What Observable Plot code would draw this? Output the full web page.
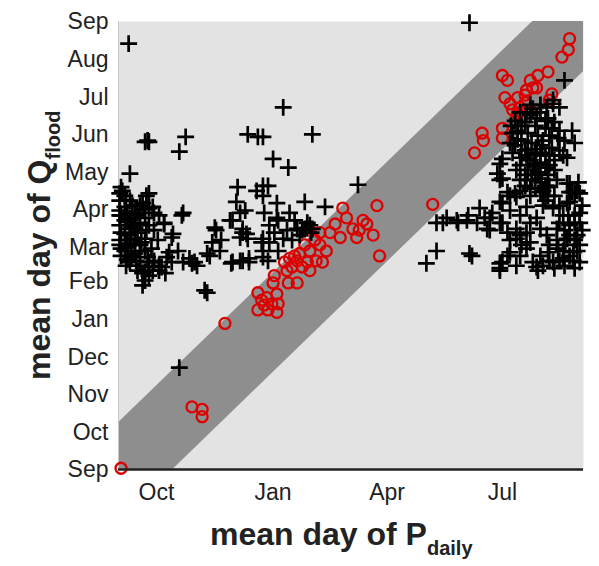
<!DOCTYPE html>
<html><head><meta charset="utf-8">
<script src="https://cdn.jsdelivr.net/npm/d3@7"></script>
<script src="https://cdn.jsdelivr.net/npm/@observablehq/plot@0.6"></script>
<style>body{margin:0;background:#fff}</style>
</head><body><div id="chart"></div>
<script>
// Day of water year (0 = 1 Sep)
const monthNames = ["Sep","Oct","Nov","Dec","Jan","Feb","Mar","Apr","May","Jun","Jul","Aug","Sep"];
const monthStarts = [0,30,61,91,122,153,181,212,242,273,303,334,365];
const xTickDays = [30,122,212,303];
const xMax = 367, yMax = 365;
const bandAbove = 38, bandBelow = 43;

// black crosses: [mean day of P_daily, mean day of Q_flood]
const otherStations = [
[8,347],[21,267],[24,267],[23,268],[53,271],[48,259],[102,273],[110,271],[114,271],[130,295],[153,273],[122,253],[134,246],[9,241],[277,364],[189,232],[147,218],[163,214],[48,83],[70,144],[19,150],
[2,230],[5,223],[22,223],[1,219],[9,219],[17,215],[24,213],[28,209],[32,207],[51,209],[1,211],[7,209],[13,207],[21,205],[5,203],[11,199],[17,201],[24,199],[1,199],[42,189],[36,200],[2,193],[9,191],[15,193],[21,188],[28,195],[1,187],[7,184],[13,183],[5,178],[10,174],[17,178],[23,173],[28,169],[32,166],[38,173],[42,169],[47,178],[51,169],[56,172],[62,166],[17,166],[21,161],[24,158],[32,162],[37,160],[9,169],[1,183],[2,174],[40,177],[60,169],[21,154],[24,165],[34,165],[28,170],[10,173],[24,225],[19,217],[27,214],[36,201],[50,207],[19,160],[68,146],[1,225],[3,227],
[5,214],[9,196],[13,188],[6,181],[18,185],[14,170],[26,180],[31,187],[22,195],[6,166],[27,162],[15,209],[2,207],
[6,219],[11,215],[1,207],[7,202],[13,197],[5,192],[10,187],[17,183],[2,180],[7,171],[13,176],[21,178],[24,169],[15,162],[9,205],[20,212],
[76,197],[81,187],[72,174],[80,178],[90,169],[98,170],[103,172],[94,230],[93,218],[100,211],[90,203],[98,193],[102,188],[109,227],[114,231],[118,231],[115,209],[113,185],[114,173],[114,223],[98,196],[96,189],[125,217],[126,203],[135,209],[139,203],[133,195],[141,196],[151,199],[152,193],[114,188],[119,185],[114,178],[126,178],[118,170],[103,169],[96,170],[89,168],[143,191],[147,196],[130,188],[123,193],[119,199],[137,187],[149,201],[153,196],[145,195],[77,195],[74,185],[70,176],[101,192],[88,203],[43,192],[58,168],[96,209],[125,205],
[352,317],[343,298],[348,295],[338,295],[301,249],[301,236],[311,258],[358,276],[360,266],[354,254],[354,233],[360,225],[311,274],[309,266],[299,241],[314,244],[351,256],[363,234],[358,226],[303,253],[303,237],[307,226],[313,225],[329,229],[338,230],
[317,291],[325,289],[333,291],[339,286],[344,283],[321,283],[329,280],[337,278],[315,276],[323,274],[331,272],[340,272],[347,270],[318,268],[326,266],[334,264],[342,262],[321,260],[329,258],[337,256],[325,252],[333,250],[340,248],[323,244],[331,242],[339,240],[326,236],[334,234],[321,231],[317,248],[313,264],[348,260],[344,244],[343,301],[333,297],[325,297],[318,280],[327,248],[335,268],[322,256],[330,261],[317,236],
[313,284],[322,291],[330,286],[337,284],[342,278],[315,269],[323,261],[333,258],[340,256],[318,254],[329,248],[337,246],[321,240],[333,237],[340,231],[325,223],[333,226],[346,236],[348,276],[352,268],[310,280],[327,294],[344,252],[339,223],[317,227],
[285,213],[301,218],[309,223],[325,229],[335,227],[356,226],[364,225],[293,205],[303,201],[314,196],[322,193],[330,205],[343,213],[351,207],[356,199],[362,191],[354,188],[359,177],[351,172],[343,169],[333,174],[322,180],[309,177],[303,169],[301,164],[330,165],[277,176],[314,188],[338,191],[346,196],[364,209],[356,218],
[251,201],[256,201],[268,201],[276,207],[283,201],[291,196],[295,209],[301,201],[303,217],[307,193],[314,222],[317,191],[322,214],[325,201],[333,196],[335,215],[346,187],[354,217],[356,233],[362,227],[364,201],[366,195],[356,191],[351,178],[362,178],[348,170],[340,170],[335,166],[327,169],[314,166],[307,174],[301,162],[251,178],[243,168],[279,174],[331,162],[359,170],[322,236],[329,240],[337,231],[259,205],[267,203],[275,203],[301,168],
[348,201],[352,183],[360,207],[340,183],[317,207],[309,211],[293,195],[344,223],[352,166],[360,164],[364,183],[317,174],[289,205],
[337,219],[348,215],[360,201],[352,195],[347,180],[356,174],[364,169],[339,177],[325,185],[360,187],[355,207],[366,215],[344,164],[318,183],[309,187]
];

// red circles: [mean day of P_daily, mean day of Q_flood]
const matchedStations = [
[2,1],[58,51],[66,49],[66,43],[84,119],
[110,144],[117,140],[121,135],[115,134],[110,130],[118,130],[125,128],[126,135],[123,158],[122,152],[125,143],[113,138],
[134,152],[141,152],[133,162],[137,165],[135,172],[141,170],[145,165],[151,162],[149,169],[143,176],[151,178],[156,170],[161,169],[164,178],[155,187],[159,193],[167,193],[171,200],[175,189],[177,213],[180,205],[185,196],[188,189],[193,203],[196,200],[201,191],[204,215],[206,174],[147,183],[139,174],[131,169],[159,183],[151,195],[190,195],
[248,216],[281,258],[287,274],[288,268],[303,278],[303,270],
[303,321],[307,317],[305,303],[309,298],[315,303],[317,295],[318,287],[325,293],[311,293],[321,299],[315,290],[322,309],[325,317],[327,311],[330,311],[331,321],[339,324],[342,306],[340,301],[350,336],[355,342],[356,351],[313,284],[321,305]
];

const band = [0, bandBelow, yMax - bandAbove, xMax].map(x => ({
  x, y1: Math.max(0, x - bandBelow), y2: Math.min(yMax, x + bandAbove)
}));

const labelOf = d => monthNames[monthStarts.indexOf(d)];

const plot = Plot.plot({
  width: 599, height: 566,
  marginLeft: 118, marginRight: 16, marginTop: 21, marginBottom: 97,
  style: {fontFamily: "Liberation Sans, Arial, sans-serif", fontSize: "23px", color: "#222", background: "#fff"},
  x: {domain: [0, xMax], axis: null},
  y: {domain: [0, yMax], axis: null},
  marks: [
    Plot.frame({fill: "#e3e3e3", stroke: "none"}),
    Plot.areaY(band, {x: "x", y1: "y1", y2: "y2", fill: "#8e8e8e", curve: "linear"}),
    Plot.ruleX([0], {stroke: "#c8c8c8", strokeWidth: 1}),
    Plot.dot(matchedStations, {x: d => d[0], y: d => d[1], r: 5.5, fill: "none", stroke: "#dd0000", strokeWidth: 2.3}),
    Plot.dot(otherStations, {x: d => d[0], y: d => d[1], symbol: "plus", r: 5.5, stroke: "#000", strokeWidth: 2.7}),
    Plot.ruleY([0], {stroke: "#222", strokeWidth: 2.5}),
    Plot.axisX(xTickDays, {tickSize: 0, tickPadding: 14, tickFormat: labelOf, label: null, fontSize: 23}),
    Plot.axisY(monthStarts, {tickSize: 0, tickPadding: 10, tickFormat: labelOf, label: null, fontSize: 23})
  ]
});
document.getElementById("chart").appendChild(plot);

const svg = d3.select(plot);
const xt = svg.append("text")
  .attr("x", 210).attr("y", 545).attr("text-anchor", "start")
  .attr("font-family", "Liberation Sans, Arial, sans-serif")
  .attr("font-weight", "bold").attr("font-size", 32).attr("fill", "#222");
xt.append("tspan").text("mean day of P");
xt.append("tspan").attr("dy", 10).attr("font-size", 20).text("daily");

const yt = svg.append("text")
  .attr("transform", "translate(50,380) rotate(-90)").attr("text-anchor", "start")
  .attr("font-family", "Liberation Sans, Arial, sans-serif")
  .attr("font-weight", "bold").attr("font-size", 32).attr("fill", "#222");
yt.append("tspan").text("mean day of Q");
yt.append("tspan").attr("dy", 10).attr("font-size", 20).text("flood");
</script>
</body></html>
